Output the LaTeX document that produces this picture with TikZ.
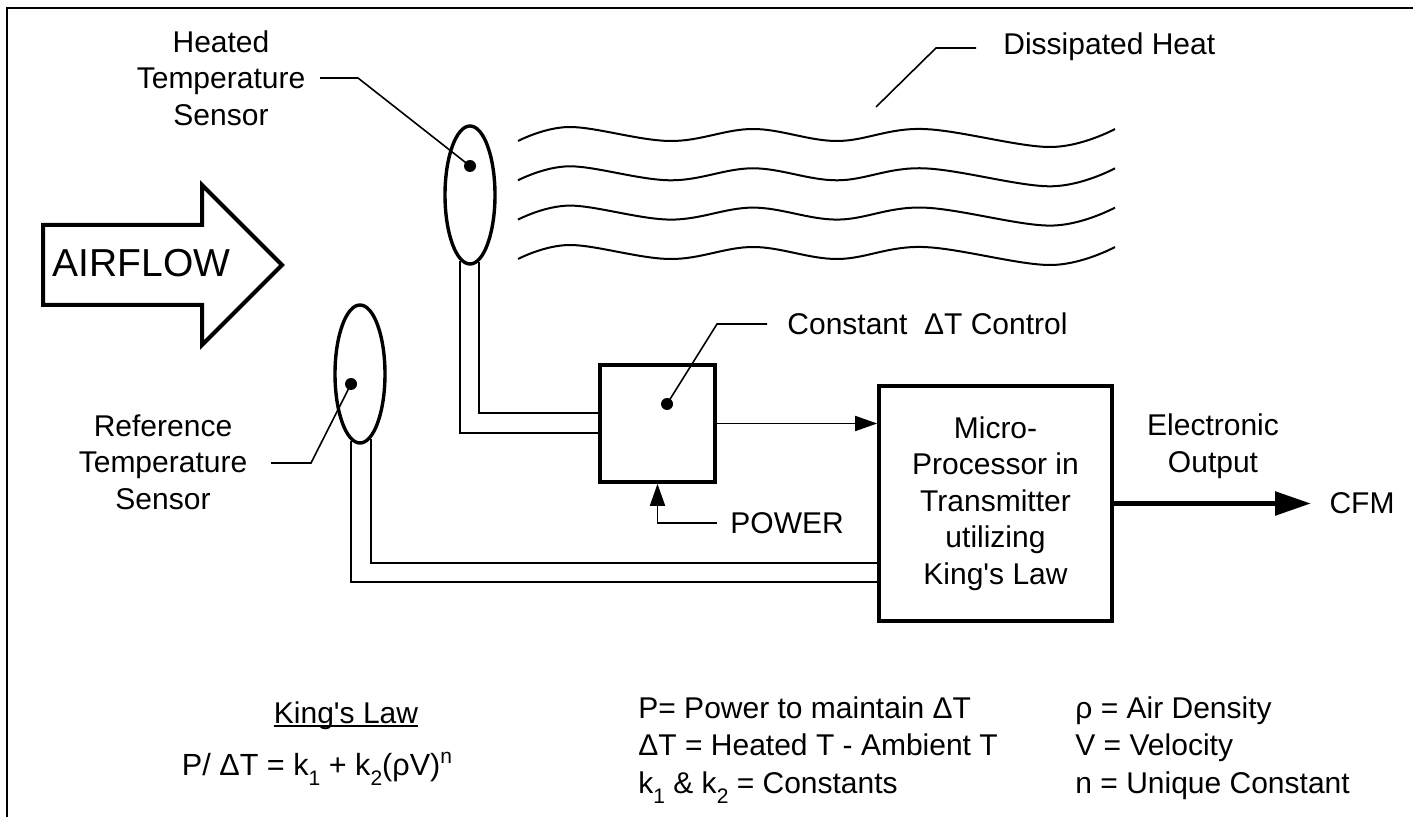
\documentclass[tikz,border=0pt]{standalone}
\usepackage{fontspec}
\setmainfont{Liberation Sans}
\usetikzlibrary{arrows.meta,shapes.geometric}
\newcommand\fsz{\fontsize{15}{18.3}\selectfont}
\newcommand\lowsub[1]{\raisebox{-5pt}{\fontsize{10.5}{10.5}\selectfont #1}}
\newcommand\highsup[1]{\raisebox{6pt}{\fontsize{10.5}{10.5}\selectfont #1}}
\begin{document}
\begin{tikzpicture}[x=0.5pt,y=-0.5pt,
  txt/.style={font=\fsz, inner sep=0pt},
  lbl/.style={txt, align=center},
  sensor/.style={draw, ellipse, line width=1.7pt, minimum width=25pt, minimum height=69pt, inner sep=0pt, fill=white},
  blk/.style={draw, line width=1.8pt, inner sep=0pt},
  wire/.style={line width=0.85pt},
  leader/.style={line width=0.8pt},
  dotn/.style={circle, fill, inner sep=0pt, minimum size=6pt},
  wave/.style={line width=1pt},
  sarrow/.style={line width=0.85pt, -{Triangle[length=11pt,width=7.5pt]}},
  barrow/.style={line width=2.8pt, -{Triangle[length=18pt,width=11.5pt]}},
  line join=miter]

\useasboundingbox (0,0) rectangle (1413,817);
\draw[line width=0.8pt] (7,817) -- (7,8) -- (1413,8);

% airflow arrow
\draw[line width=2pt] (43,225) -- (202,225) -- (202,185) -- (282,265) -- (202,345) -- (202,305) -- (43,305) -- cycle;
\node[font=\fontsize{19.5}{20}\selectfont, inner sep=0pt] (air) at (141.5,263) {AIRFLOW};

% waves
\foreach \dy in {0,39.3,78.6,118} {
  \draw[wave, shift={(0,\dy)}] plot[smooth, tension=0.6] coordinates {(518,141) (570,127) (670,141) (753,129) (837,141) (923,129) (1050,147) (1115,129)};
}
\node[txt, anchor=west] (dh) at (1003,47) {Dissipated Heat};
\coordinate (dh1) at (976,48);
\coordinate (dhb) at (936,48);
\coordinate (dh2) at (876,107);
\draw[leader] (dh1) -- (dhb) -- (dh2);

% sensors
\node[sensor] (hs) at (470,195) {};
\node[sensor] (rs) at (360,374) {};

% boxes
\node[blk, minimum width=57.5pt, minimum height=58.5pt] (cb) at (657.5,423.5) {};
\node[blk, minimum width=116.5pt, minimum height=117.5pt, align=center, font=\fsz] (mp) at (995.5,503.5) {Micro-\\Processor in\\Transmitter\\utilizing\\King\textquotesingle s Law};

% wires
\draw[wire] ([xshift=4.5pt,yshift=2pt]hs.south) |- ([yshift=5.25pt]cb.west);
\draw[wire] ([xshift=-5pt,yshift=2.5pt]hs.south) |- ([yshift=-4.75pt]cb.west);
\draw[wire] ([xshift=5.5pt,yshift=3pt]rs.south) |- ([yshift=-29.75pt]mp.west);
\draw[wire] ([xshift=-4.5pt,yshift=2pt]rs.south) |- ([yshift=-39.25pt]mp.west);

% dots and leaders
\node[dotn] (hd) at (470,166) {};
\node[dotn] (rd) at (351,384) {};
\node[dotn] (cd) at (667,404) {};

\node[lbl] (hl) at (221,78) {Heated\\Temperature\\Sensor};
\coordinate (hl1) at (320,78);
\coordinate (hb) at (358,78);
\draw[leader] (hl1) -- (hb) -- (hd.center);

\node[lbl] (rl) at (163,462) {Reference\\Temperature\\Sensor};
\coordinate (rl1) at (271,463);
\coordinate (rb) at (311,463);
\draw[leader] (rl1) -- (rb) -- (rd.center);

\node[txt, anchor=west] (cl) at (787,324) {Constant\ \ ΔT Control};
\coordinate (cbb) at (717,324);
\coordinate (cl1) at (767,324);
\draw[leader] (cd.center) -- (cbb) -- (cl1);

% signal arrows
\draw[sarrow] (cb.east) -- (cb.east -| mp.west);
\node[txt, anchor=west] (pw) at (730,523) {POWER};
\coordinate (pw1) at (717,523);
\draw[sarrow] (pw1) -| (cb.south);

% output
\node[lbl] (eo) at (1213,446) {Electronic\\Output};
\node[txt] (cfm) at (1362,503.5) {CFM};
\coordinate (tip) at (1311,503.5);
\draw[barrow] (mp.east) -- (tip);

% King's law
\node[txt, anchor=base] (kl) at (346,723) {King\textquotesingle s Law};
\draw[line width=0.75pt] ([yshift=-1.6pt]kl.base west) -- ([yshift=-1.6pt]kl.base east);
\node[txt, font=\fontsize{15.3}{16}\selectfont, anchor=base] (kf) at (317,775) {P/ ΔT = k\lowsub{1} + k\lowsub{2}(ρV)\highsup{n}};

\node[txt, anchor=base west] (c1a) at (638,718) {P= Power to maintain ΔT};
\node[txt, anchor=base west] (c1b) at (638,755) {ΔT = Heated T - Ambient T};
\node[txt, anchor=base west] (c1c) at (638,793) {k\lowsub{1} \& k\lowsub{2} = Constants};
\node[txt, anchor=base west] (c2a) at (1075,718) {ρ = Air Density};
\node[txt, anchor=base west] (c2b) at (1075,755) {V = Velocity};
\node[txt, anchor=base west] (c2c) at (1075,793) {n = Unique Constant};
\end{tikzpicture}
\end{document}
